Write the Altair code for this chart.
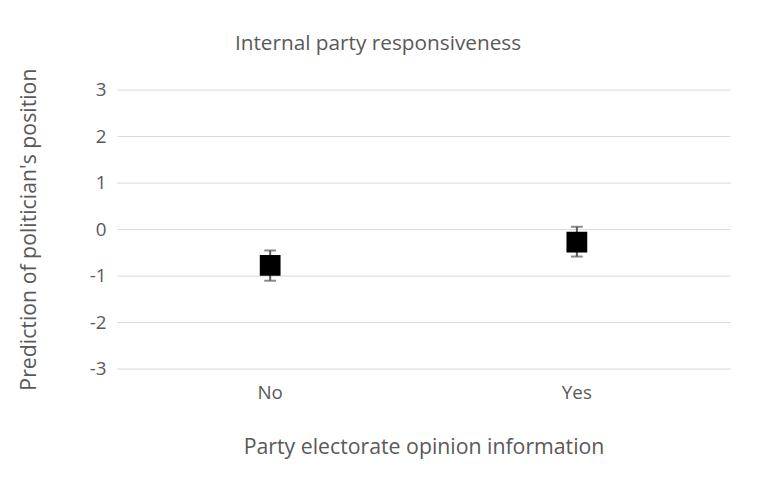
import altair as alt
import pandas as pd

categories = ["No", "Yes"]
means = [-0.78, -0.28]
lower = [-1.11, -0.59]
upper = [-0.46, 0.05]

df = pd.DataFrame({"cat": categories, "mean": means, "lo": lower, "hi": upper})

FONT = "Open Sans"
GREY = "#595959"

x = alt.X("cat:N", scale=alt.Scale(domain=categories, paddingInner=0, paddingOuter=0),
          axis=alt.Axis(title="Party electorate opinion information", labelAngle=0,
                        labelPadding=15, titlePadding=35, ticks=False, domain=False,
                        grid=False))
yscale = alt.Scale(domain=[-3, 3], nice=False)
yaxis = alt.Axis(title="Prediction of politician's position", values=[-3, -2, -1, 0, 1, 2, 3],
                 labelExpr="'' + datum.value",
                 ticks=False, domain=False, labelPadding=11, titlePadding=49,
                 gridColor="#d9d9d9", gridWidth=1)

base = alt.Chart(df)

rule = base.mark_rule(color=GREY, strokeWidth=2).encode(
    x=x, y=alt.Y("lo:Q", scale=yscale, axis=yaxis), y2="hi:Q")
cap_lo = base.mark_tick(color=GREY, thickness=2, size=12, orient="horizontal").encode(
    x=x, y=alt.Y("lo:Q", scale=yscale))
cap_hi = base.mark_tick(color=GREY, thickness=2, size=12, orient="horizontal").encode(
    x=x, y=alt.Y("hi:Q", scale=yscale))
pts = base.mark_square(color="black", opacity=1, size=441).encode(
    x=x, y=alt.Y("mean:Q", scale=yscale))

chart = alt.layer(rule, cap_lo, cap_hi, pts).properties(
    width=620, height=282,
    padding={"left": 110, "top": 80, "right": 19, "bottom": 100},
    autosize=alt.AutoSizeParams(type="none"),
    background="white",
    title=alt.TitleParams("Internal party responsiveness", dx=-46, offset=14,
                          font=FONT, fontSize=21, fontWeight="normal", color=GREY),
).configure_view(stroke=None).configure_axis(
    labelFont=FONT, titleFont=FONT, labelFontSize=19, titleFontSize=21.5,
    labelColor=GREY, titleColor=GREY, titleFontWeight="normal"
)

chart.save("out.html", embed_options={"renderer": "svg", "actions": False})
